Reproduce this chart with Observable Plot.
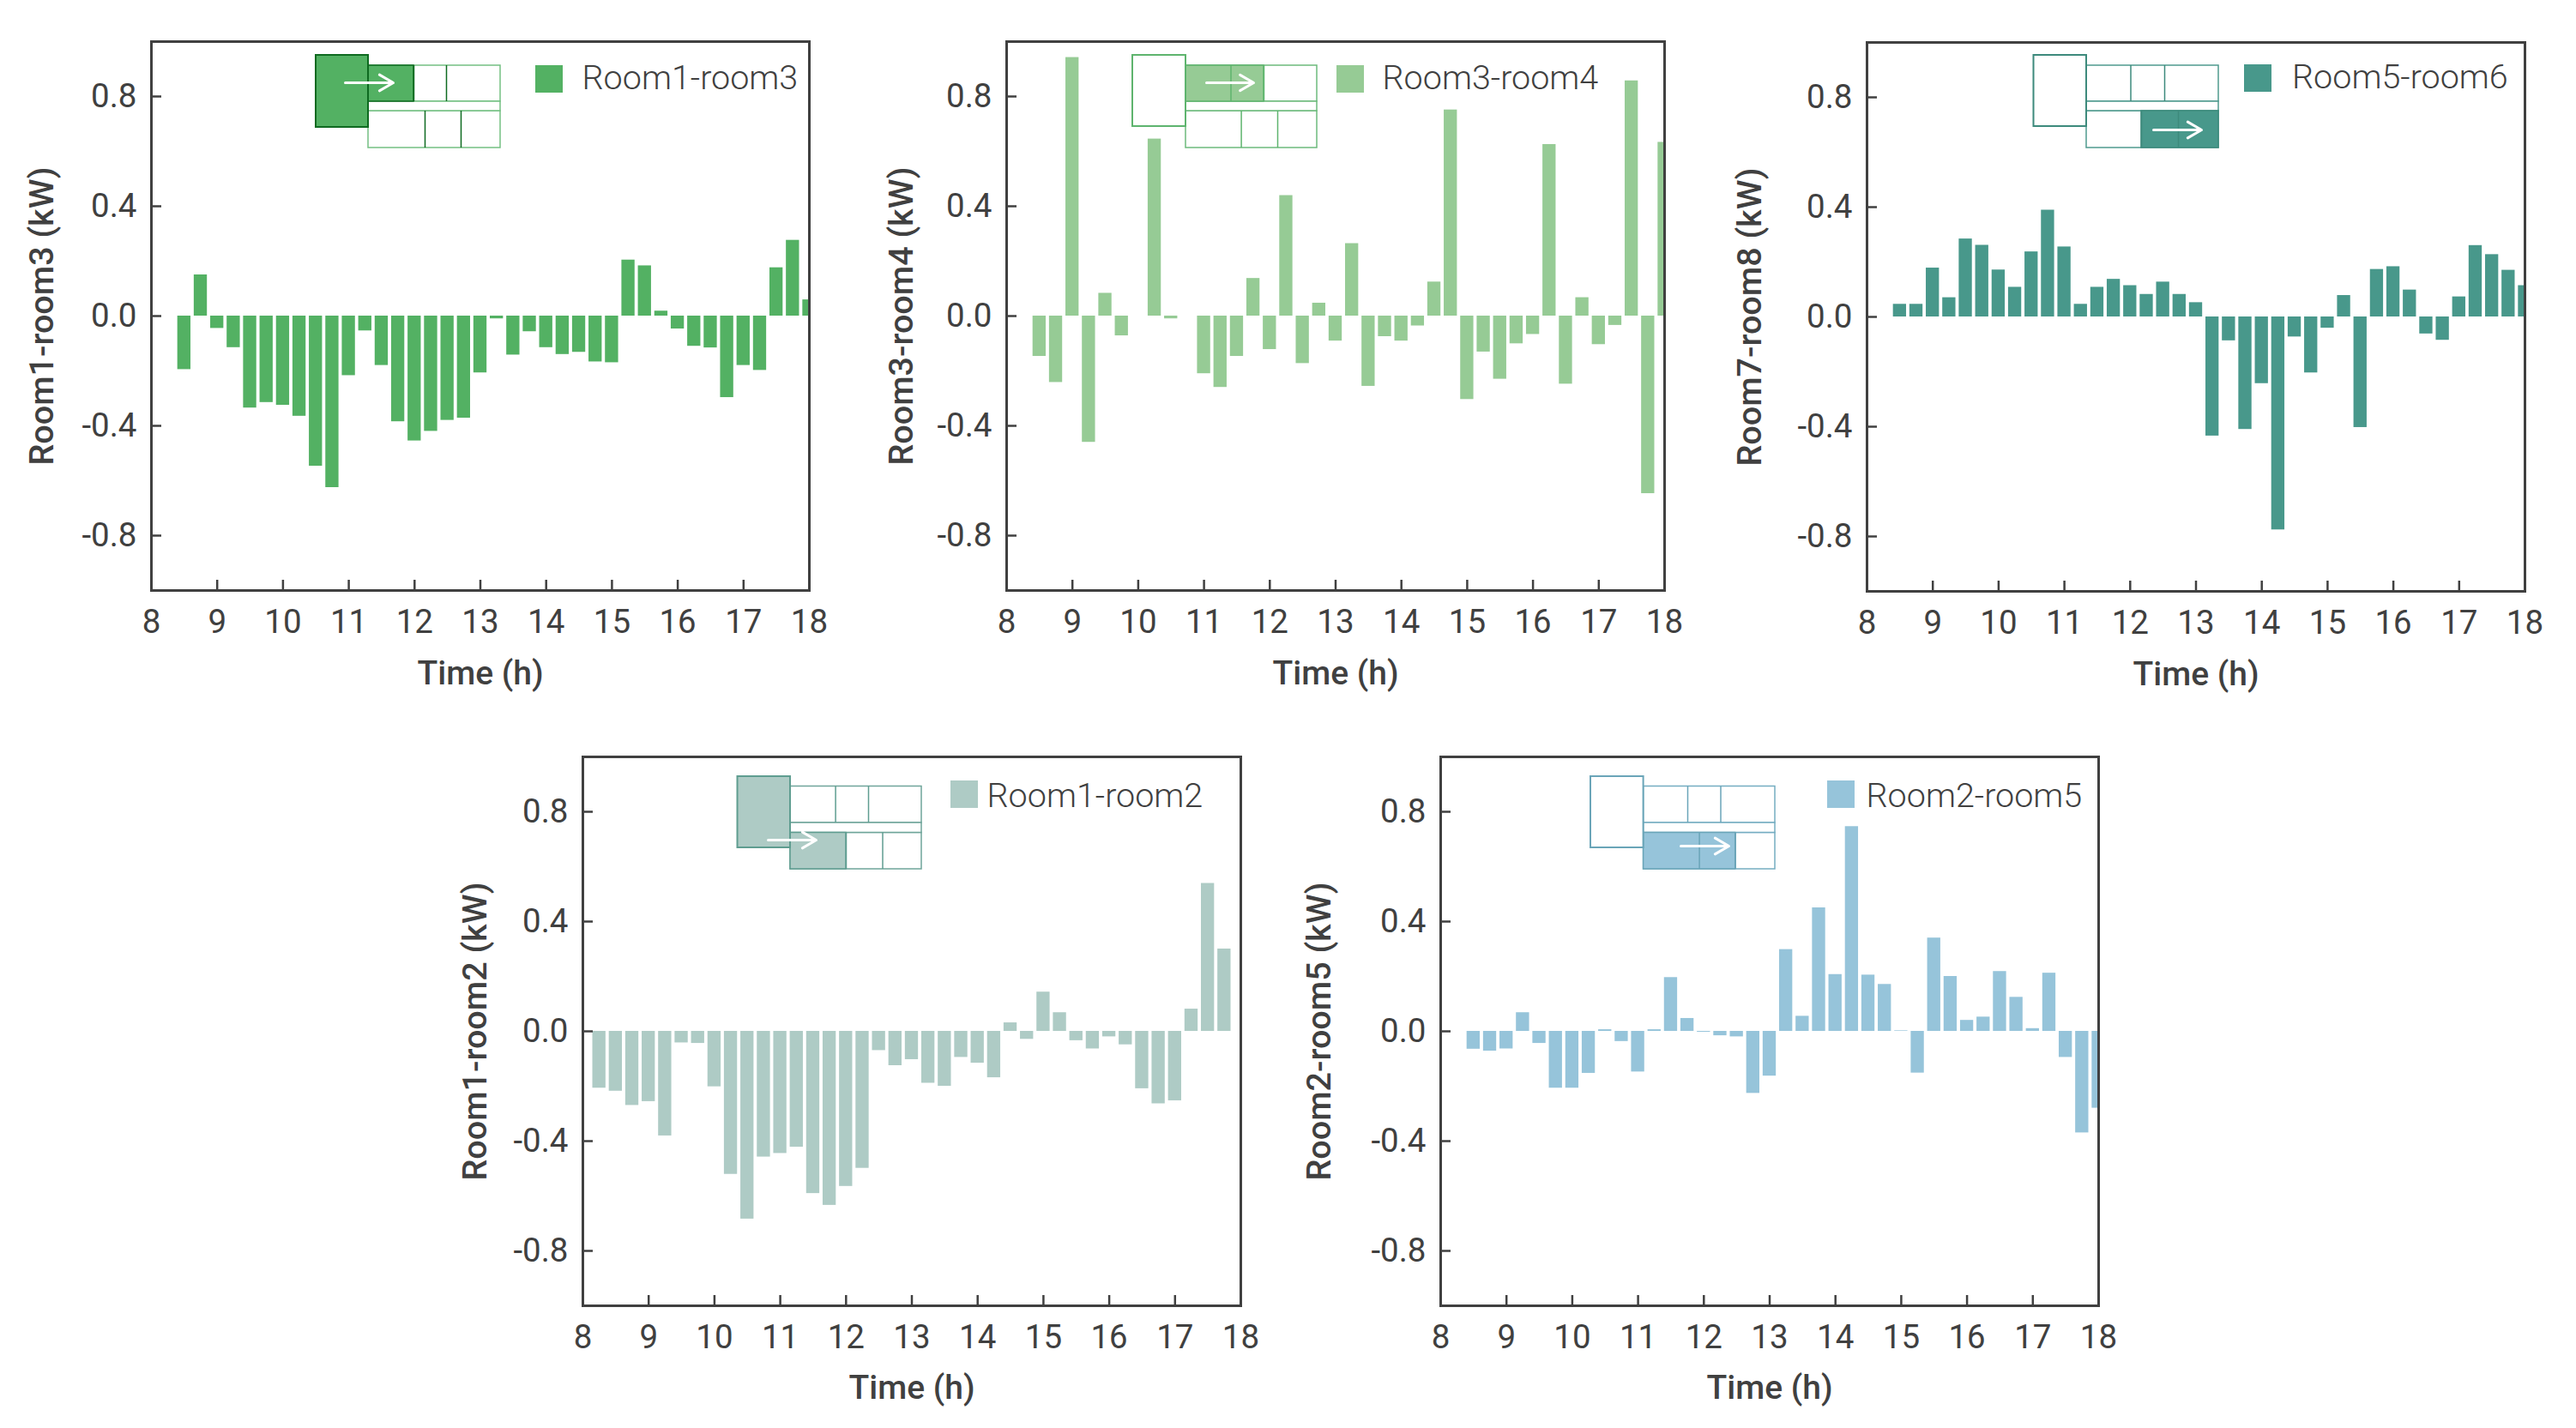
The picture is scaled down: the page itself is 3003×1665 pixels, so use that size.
<!DOCTYPE html>
<html>
<head>
<meta charset="utf-8">
<script src="https://cdn.jsdelivr.net/npm/d3@7"></script>
<script src="https://cdn.jsdelivr.net/npm/@observablehq/plot@0.6"></script>
<style>
html,body{margin:0;padding:0;background:#fff;width:3003px;height:1665px;overflow:hidden}
#page{position:relative;width:3003px;height:1665px}
#page svg{position:absolute;overflow:visible}
</style>
</head>
<body>
<div id="page"></div>
<script>
// Values (kW), one every quarter hour
const room1room3 = [-0.195,0.15,-0.045,-0.115,-0.335,-0.315,-0.325,-0.365,-0.547,-0.625,-0.217,-0.054,-0.18,-0.385,-0.455,-0.42,-0.38,-0.372,-0.207,-0.01,-0.142,-0.057,-0.115,-0.14,-0.132,-0.167,-0.17,0.204,0.183,0.018,-0.047,-0.11,-0.116,-0.297,-0.18,-0.198,0.176,0.276,0.059];
const room3room4 = [-0.147,-0.242,0.942,-0.46,0.083,-0.072,0,0.645,-0.01,0,-0.21,-0.26,-0.147,0.137,-0.122,0.439,-0.173,0.047,-0.091,0.264,-0.256,-0.075,-0.091,-0.036,0.124,0.751,-0.304,-0.131,-0.23,-0.101,-0.067,0.625,-0.248,0.067,-0.104,-0.034,0.857,-0.647,0.633];
const room7room8 = [0.046,0.046,0.178,0.07,0.284,0.261,0.171,0.108,0.237,0.389,0.255,0.046,0.108,0.137,0.114,0.082,0.127,0.082,0.052,-0.434,-0.087,-0.41,-0.243,-0.776,-0.073,-0.204,-0.041,0.078,-0.403,0.173,0.183,0.098,-0.062,-0.085,0.073,0.26,0.227,0.17,0.114];
const room1room2 = [-0.207,-0.218,-0.27,-0.256,-0.381,-0.042,-0.044,-0.202,-0.521,-0.684,-0.458,-0.445,-0.422,-0.591,-0.634,-0.565,-0.499,-0.07,-0.125,-0.103,-0.189,-0.2,-0.095,-0.116,-0.169,0.031,-0.029,0.143,0.068,-0.034,-0.064,-0.02,-0.049,-0.209,-0.264,-0.253,0.081,0.539,0.3];
const room2room5 = [-0.065,-0.072,-0.064,0.068,-0.044,-0.207,-0.207,-0.153,0.006,-0.037,-0.148,0.006,0.196,0.047,-0.003,-0.016,-0.02,-0.226,-0.163,0.298,0.055,0.45,0.207,0.746,0.205,0.171,0.002,-0.152,0.34,0.2,0.04,0.052,0.218,0.124,0.01,0.212,-0.095,-0.37,-0.28];

const xTicks = [8,9,10,11,12,13,14,15,16,17,18];
const yTicks = [-0.8,-0.4,0,0.4,0.8];
const legendLabels = ["Room1-room3","Room3-room4","Room5-room6","Room1-room2","Room2-room5"];
const yLabels = ["Room1-room3 (kW)","Room3-room4 (kW)","Room7-room8 (kW)","Room1-room2 (kW)","Room2-room5 (kW)"];
const xLabel = "Time (h)";
const ink = "#404040";

// Panel layout: page position of the frame, colours and the little floor-plan inset (pixels from the frame corner)
const panels = [
  {values:room1room3,start:8.5,left:175.5,top:48,color:"#53b163",edge:"#0e6a20",line:"#74c082",titleDx:-127,xDy:109,
   swatch:[448,480,28,60],textX:502,textY:43,
   big:[192,253,16,100],rows:[28,70,81,124],right:407,topDiv:[306,344],botDiv:[319,361],
   fills:[[253,306,28,70]],arrow:[226,282,48],bigFill:true},
  {values:room3room4,start:8.5,left:1172.7,top:48,color:"#96cb95",edge:"#5eb46e",line:"#6dbb7c",titleDx:-122,xDy:109,
   swatch:[385,417,28,60],textX:438,textY:43,
   big:[147,209,16,99],rows:[28,70,81,124],right:362,topDiv:[261.5,300],botDiv:[273.6,316],
   fills:[[209,300,28,70]],arrow:[233,288,48],bigFill:false},
  {values:room7room8,start:8.5,left:2176,top:49,color:"#48988b",edge:"#3d8a7c",line:"#4f9a8e",titleDx:-136,xDy:109,
   swatch:[440,472,26,58],textX:495.5,textY:41,
   big:[194.5,256,15,98],rows:[27,69,80,123],right:410,topDiv:[307.5,347],botDiv:[320,363],
   fills:[[320,410,80,123]],arrow:[334,390,102],bigFill:false},
  {values:room1room2,start:8.25,left:679,top:882,color:"#aecbc5",edge:"#5f9d90",line:"#6fa59a",titleDx:-125,xDy:108,
   swatch:[429,461,28,60],textX:471,textY:46,
   big:[180.5,242,23,106],rows:[34.5,77,88.5,131],right:395,topDiv:[294.6,333],botDiv:[307,349.5],
   fills:[[242,307,88.5,131]],arrow:[216,272,97],bigFill:true},
  {values:room2room5,start:8.5,left:1679,top:882,color:"#96c4da",edge:"#6aa5b8",line:"#75adc1",titleDx:-141,xDy:108,
   swatch:[451,483,28,60],textX:496,textY:46,
   big:[175,236.6,23,106],rows:[34.5,77,88.5,131],right:390,topDiv:[288,326.5],botDiv:[301.6,343.7],
   fills:[[236.6,343.7,88.5,131]],arrow:[280,336,104],bigFill:false}
];

const frameW = 767, frameH = 640;
const mL = 160, mR = 50, mT = 22, mB = 135;
const tickLen = 12;
const px = p => 8 + p / frameW * 10;
const py = p => 1 - p / frameH * 2;
const box = ([a,b,c,d]) => ({x1:px(a),x2:px(b),y1:py(c),y2:py(d)});

panels.forEach((p,i) => {
  const bars = p.values.map((v,k) => ({t:p.start + k*0.25, v}));
  const [r1,r2,r3,r4] = p.rows;
  const outline = [
    box([p.big[1],p.right,r1,r2]),
    box([p.big[1],p.right,r3,r4]),
    box([p.big[1],p.right,r2,r3])
  ];
  const divs = [
    ...p.topDiv.map(d => ({x:px(d),y1:py(r1),y2:py(r2)})),
    ...p.botDiv.map(d => ({x:px(d),y1:py(r3),y2:py(r4)}))
  ];
  const plot = Plot.plot({
    width: frameW + mL + mR,
    height: frameH + mT + mB,
    marginLeft: mL, marginRight: mR, marginTop: mT, marginBottom: mB,
    style: {fontFamily:"Roboto, sans-serif", fontSize:"38.5px", fontWeight:400, color:ink, background:"transparent", overflow:"visible"},
    x: {domain:[8,18], label:null},
    y: {domain:[-1,1], label:null},
    marks: [
      Plot.rect(bars, {x1:d=>d.t-0.1, x2:d=>d.t+0.1, y1:0, y2:"v", fill:p.color, clip:true}),
      Plot.rect(outline, {x1:"x1",x2:"x2",y1:"y1",y2:"y2",fill:"white",stroke:p.line,strokeWidth:1.5}),
      Plot.rect(p.fills.map(box), {x1:"x1",x2:"x2",y1:"y1",y2:"y2",fill:p.color,stroke:p.edge,strokeWidth:1.5}),
      Plot.ruleX(divs, {x:"x",y1:"y1",y2:"y2",stroke:p.edge,strokeWidth:1.5}),
      Plot.rect([box(p.big)], {x1:"x1",x2:"x2",y1:"y1",y2:"y2",fill:p.bigFill?p.color:"white",stroke:p.edge,strokeWidth:2}),
      Plot.arrow([{x1:px(p.arrow[0]),x2:px(p.arrow[1]),y:py(p.arrow[2])}], {x1:"x1",x2:"x2",y1:"y",y2:"y",stroke:"white",strokeWidth:3,bend:0,headLength:22,inset:0}),
      Plot.rect([box(p.swatch)], {x1:"x1",x2:"x2",y1:"y1",y2:"y2",fill:p.color}),
      Plot.text([legendLabels[i]], {x:px(p.textX),y:py(p.textY),text:d=>d,textAnchor:"start",fontSize:39.5,fontWeight:300,fill:ink}),
      Plot.ruleX(xTicks, {x:d=>d,y1:-1,y2:py(frameH-tickLen),stroke:ink,strokeWidth:2.5}),
      Plot.ruleY(yTicks, {y:d=>d,x1:8,x2:px(tickLen),stroke:ink,strokeWidth:2.5}),
      Plot.axisX({ticks:xTicks,tickSize:0,tickPadding:22,tickFormat:d=>String(d),fill:ink,label:null}),
      Plot.axisY({ticks:yTicks,tickSize:0,tickPadding:17,tickFormat:d=>d.toFixed(1),fill:ink,label:null}),
      Plot.frame({stroke:ink,strokeWidth:3}),
      Plot.text([xLabel], {frameAnchor:"bottom",dy:p.xDy,text:d=>d,fontSize:39,fontWeight:500,fill:ink}),
      Plot.text([yLabels[i]], {frameAnchor:"left",dx:p.titleDx,rotate:-90,textAnchor:"middle",text:d=>d,fontSize:39.5,fontWeight:500,fill:ink})
    ]
  });
  plot.style.left = (p.left - mL) + "px";
  plot.style.top = (p.top - mT) + "px";
  document.getElementById("page").appendChild(plot);
});
</script>
</body>
</html>
